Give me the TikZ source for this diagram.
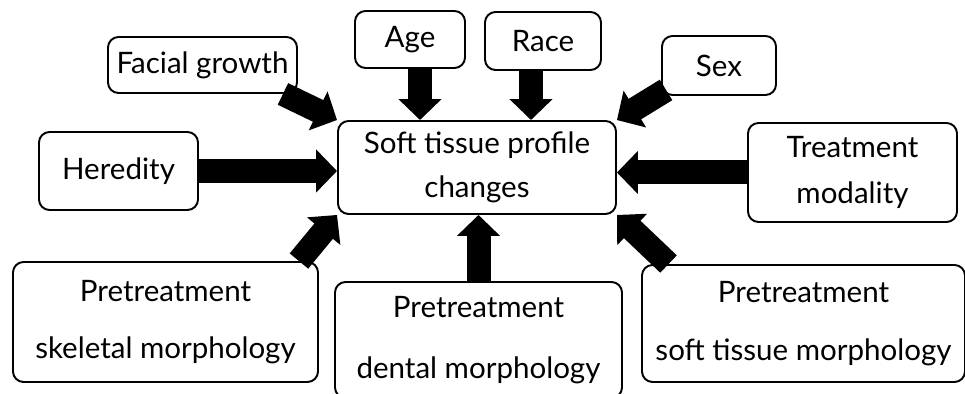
\documentclass[tikz,border=0pt]{standalone}
\usepackage{fontspec}
\setmainfont{Lato}
\usetikzlibrary{calc,arrows.meta}
\tikzset{
  factor/.style={draw, line width=1.1pt, rounded corners=6pt, align=center,
    inner sep=0pt, font=\fontsize{16.8}{20}\selectfont},
  fat/.style={line width=0.48cm, -{Triangle[length=0.42cm, width=0.84cm]}}
}

\begin{document}
\begin{tikzpicture}
  \useasboundingbox (0,0) rectangle (19.3,7.88);

  % ---------- Boxes ----------
  \node[factor, minimum width=5.56cm, minimum height=1.86cm] (cen) at (9.54,4.53)
    {Soft tissue profile\\[0.18cm]changes};

  \node[factor, minimum width=3.78cm, minimum height=1.12cm] (fac) at (4.05,6.58) {Facial growth};
  \node[factor, minimum width=2.2cm, minimum height=1.14cm] (age) at (8.2,7.09) {Age};
  \node[factor, minimum width=2.32cm, minimum height=1.16cm] (race) at (10.86,7.06) {Race};
  \node[factor, minimum width=2.28cm, minimum height=1.18cm] (sex) at (14.38,6.57) {Sex};
  \node[factor, minimum width=3.18cm, minimum height=1.56cm] (her) at (2.37,4.46) {Heredity};
  \node[factor, minimum width=4.18cm, minimum height=1.98cm] (trt) at (17.05,4.43)
    {Treatment\\[0.2cm]modality};

  \node[factor, minimum width=6.1cm, minimum height=2.4cm] (skel) at (3.31,1.44)
    {Pretreatment\\[0.45cm]skeletal morphology};
  \node[factor, minimum width=5.74cm, minimum height=2.32cm] (dent) at (9.57,1.08)
    {Pretreatment\\[0.53cm]dental morphology};
  \node[factor, minimum width=6.46cm, minimum height=2.34cm] (soft) at (16.07,1.41)
    {Pretreatment\\[0.45cm]soft tissue morphology};

  % ---------- Arrows ----------
  \draw[fat] ([xshift=-0.3cm]fac.south east) -- (cen.north west);
  \draw[fat] ([xshift=0.2cm]age.south) -- ([xshift=0.2cm]age.south |- cen.north);
  \draw[fat] ([xshift=-0.24cm]race.south) -- ([xshift=-0.24cm]race.south |- cen.north);
  \draw[fat] ([xshift=0.1cm,yshift=0.12cm]sex.south west) -- (cen.north east);
  \draw[fat] (her.east) -- (her.east -| cen.west);
  \draw[fat] (trt.west) -- (trt.west -| cen.east);
  \draw[fat] ([xshift=-0.4cm]skel.north east) -- (cen.south west);
  \draw[fat] (dent.north) -- (dent.north |- cen.south);
  \draw[fat] ([xshift=0.55cm]soft.north west) -- (cen.south east);
\end{tikzpicture}
\end{document}
